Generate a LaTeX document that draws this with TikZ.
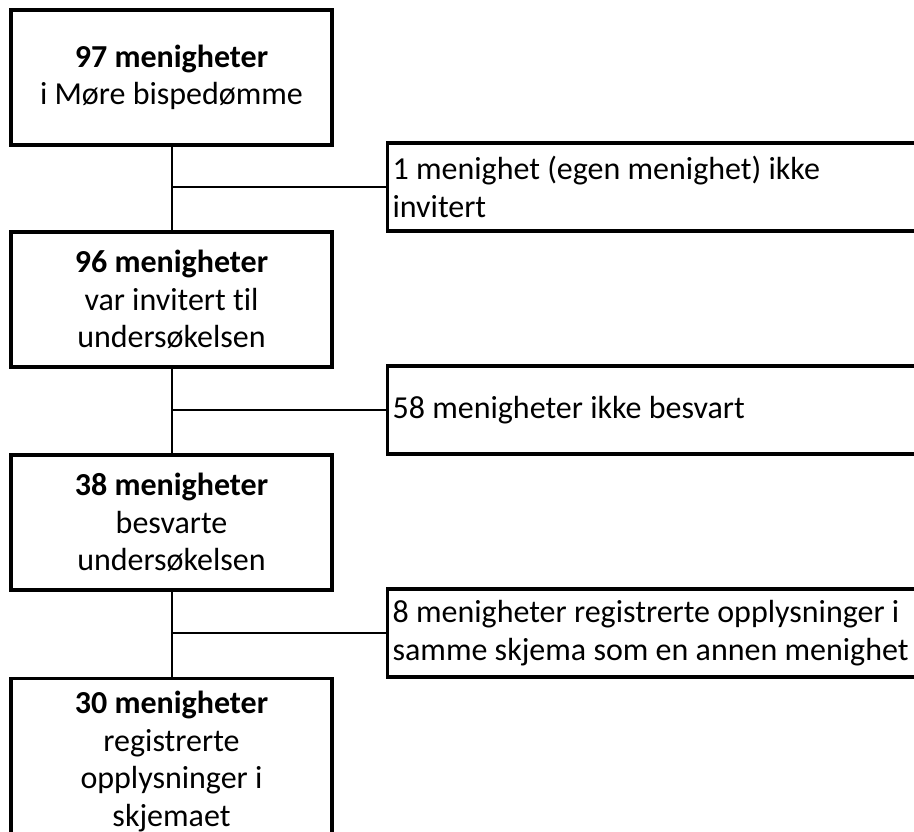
\documentclass[tikz,border=0pt]{standalone}
\usepackage{fontspec}
\setmainfont{Carlito}[Ligatures=NoCommon]
\begin{document}
\begin{tikzpicture}[x=1pt,y=-1pt,
  mainbox/.style={draw=black,line width=3.2pt,minimum width=321pt,minimum height=135pt,
    align=center,inner sep=0pt,font=\fontsize{32}{37.5}\selectfont},
  sidebox/.style={draw=black,line width=3.2pt,text width=588pt,minimum height=88pt,
    align=flush left,inner xsep=5pt,inner ysep=0pt,font=\fontsize{32}{37.5}\selectfont},
  link/.style={draw=black,line width=2pt}]
\useasboundingbox (0,0) rectangle (914,832);
\clip (0,0) rectangle (914,832);
\node[mainbox] (b1) at (171.5,77.5) {\textbf{97 menigheter}\\i Møre bispedømme};
\node[mainbox] (b2) at (171.5,299.5) {\textbf{96 menigheter}\\var invitert til\\undersøkelsen};
\node[mainbox] (b3) at (171.5,522.5) {\textbf{38 menigheter}\\besvarte\\undersøkelsen};
\node[mainbox,minimum height=166pt,anchor=north] (b4) at (171.5,677) {\textbf{30 menigheter}\\registrerte\\opplysninger i\\skjemaet};
\node[sidebox,anchor=west] (r1) at (386,187) {1 menighet (egen menighet) ikke\\invitert};
\node[sidebox,anchor=west] (r2) at (386,410) {58 menigheter ikke besvart};
\node[sidebox,anchor=west] (r3) at (386,633) {8 menigheter registrerte opplysninger i\\samme skjema som en annen menighet};
\draw[link] (b1.south) -- (b2.north);
\draw[link] (b2.south) -- (b3.north);
\draw[link] (b3.south) -- (b4.north);
\draw[link] (b1.south |- r1.west) -- (r1.west);
\draw[link] (b2.south |- r2.west) -- (r2.west);
\draw[link] (b3.south |- r3.west) -- (r3.west);
\end{tikzpicture}
\end{document}
